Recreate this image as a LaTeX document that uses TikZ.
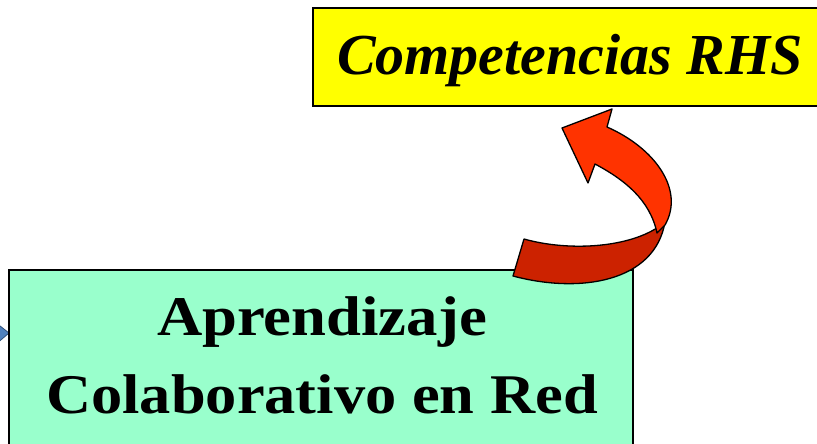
\documentclass[tikz,border=0pt]{standalone}
\usepackage{fontspec}
\setmainfont{Liberation Serif}
\definecolor{boxyellow}{HTML}{FFFF00}
\definecolor{boxgreen}{HTML}{99FFCC}
\definecolor{arrowfront}{HTML}{FF3300}
\definecolor{arrowback}{HTML}{CC2200}
\definecolor{arrowblue}{HTML}{4F81BD}
\definecolor{blueedge}{HTML}{2E4F7A}
\tikzset{
  boxline/.style={draw=black, line width=2.2pt},
  ribbon/.style={draw=black, line width=1.3pt, line join=round},
  bigtext/.style={inner sep=0pt, font=\fontsize{56}{60}\selectfont\bfseries},
  toptext/.style={inner sep=0pt, font=\fontsize{58}{62}\selectfont\bfseries\itshape},
}
\begin{document}
\begin{tikzpicture}[x=1pt,y=-1pt]
\useasboundingbox (0,0) rectangle (817,444);
\clip (0,0) rectangle (817,444);
% yellow box
\path[boxline, fill=boxyellow] (313,8) rectangle (830,106);
\node[toptext, anchor=base] (comp) at (570,75) {Competencias RHS};
% blue arrow tip at left
\path[fill=arrowblue, draw=blueedge, line width=0.8pt] (-5,322) -- (9,333) -- (-5,345) -- cycle;
% green box
\path[boxline, fill=boxgreen] (9,270) rectangle (633,460);
\node[bigtext, anchor=base] (t1) at (322,335) {\scalebox{1.12}[1]{Aprendizaje}};
\node[bigtext, anchor=base] (t2) at (322,413) {\scalebox{1.115}[1]{Colaborativo en Red}};
% red curved arrow: back (dark) part
\path[ribbon, fill=arrowback] (513,276) -- (524,239)
  .. controls (570,252) and (635,248) .. (665,222)
  .. controls (655,282) and (580,294) .. (513,276) -- cycle;
% front part with head
\path[ribbon, fill=arrowfront] (657,233)
  .. controls (650,200) and (625,180) .. (595,164)
  -- (588,183) -- (562,128) -- (612,109) -- (607,127)
  .. controls (655,148) and (685,190) .. (665,225) -- cycle;
\end{tikzpicture}
\end{document}
